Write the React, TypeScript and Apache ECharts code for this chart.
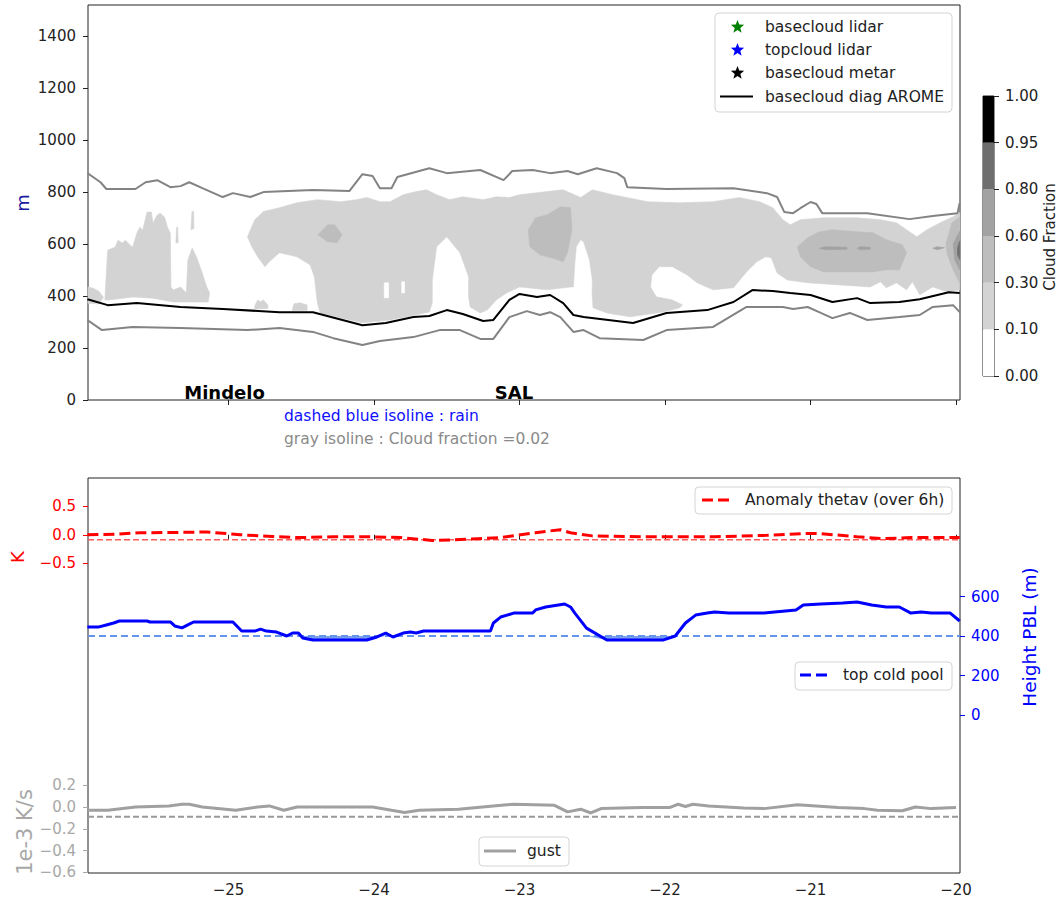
import React, { useEffect, useRef } from "react";
import * as echarts from "echarts";

// ---------- axes ----------
const X_MIN = -25.966;
const X_MAX = -19.973;
const LON_TICKS = [-25, -24, -23, -22, -21, -20];
const HEIGHT_TICKS = [0, 200, 400, 600, 800, 1000, 1200, 1400];
const K_TICKS = [-0.5, 0, 0.5];
const GUST_TICKS = [-0.6, -0.4, -0.2, 0, 0.2];
const PBL_TICKS = [0, 200, 400, 600];
const CF_BOUNDS = ["0.00", "0.10", "0.30", "0.60", "0.80", "0.95", "1.00"];
const CF_COLORS = ["#ffffff", "#d3d3d3", "#bdbdbd", "#a2a2a2", "#6e6e6e", "#000000"];

// ---------- top panel: isolines (lon, m) ----------
const GRAY_UPPER: number[][] = [
  [-25.97, 873], [-25.88, 838], [-25.84, 812], [-25.64, 812], [-25.57, 838], [-25.49, 846], [-25.40, 819],
  [-25.33, 823], [-25.27, 838], [-25.18, 815], [-25.04, 781], [-24.97, 796], [-24.85, 781], [-24.76, 800],
  [-24.42, 808], [-24.17, 804], [-24.08, 869], [-24.01, 862], [-23.96, 815], [-23.88, 815], [-23.84, 858],
  [-23.62, 892], [-23.50, 873], [-23.27, 885], [-23.11, 846], [-23.05, 881], [-22.91, 885], [-22.79, 873],
  [-22.67, 881], [-22.60, 869], [-22.47, 892], [-22.33, 873], [-22.28, 854], [-22.26, 819], [-21.99, 812],
  [-21.53, 815], [-21.30, 796], [-21.23, 781], [-21.18, 723], [-21.12, 719], [-21.07, 738], [-21.00, 762],
  [-20.96, 754], [-20.92, 719], [-20.61, 719], [-20.32, 696], [-20.16, 708], [-19.99, 719], [-19.975, 758],
];
const GRAY_LOWER: number[][] = [
  [-25.97, 308], [-25.87, 269], [-25.66, 281], [-25.33, 277], [-24.87, 269], [-24.65, 277], [-24.42, 262],
  [-24.28, 238], [-24.08, 212], [-23.96, 227], [-23.73, 242], [-23.55, 269], [-23.41, 269], [-23.27, 235],
  [-23.18, 235], [-23.07, 319], [-22.95, 342], [-22.86, 327], [-22.79, 338], [-22.72, 319], [-22.63, 262],
  [-22.56, 269], [-22.45, 238], [-22.15, 231], [-21.99, 269], [-21.67, 281], [-21.44, 358], [-21.19, 358],
  [-21.12, 350], [-21.02, 358], [-20.93, 335], [-20.85, 315], [-20.73, 335], [-20.61, 308], [-20.39, 319],
  [-20.25, 327], [-20.16, 358], [-20.02, 365], [-19.975, 338],
];
const BASECLOUD_AROME: number[][] = [
  [-25.97, 388], [-25.83, 365], [-25.63, 373], [-25.33, 358], [-25.04, 350], [-24.65, 338], [-24.42, 338],
  [-24.08, 288], [-23.92, 296], [-23.73, 319], [-23.62, 323], [-23.50, 346], [-23.39, 331], [-23.25, 304],
  [-23.18, 308], [-23.07, 385], [-23.00, 408], [-22.88, 396], [-22.79, 404], [-22.70, 373], [-22.63, 327],
  [-22.56, 319], [-22.22, 296], [-21.99, 335], [-21.71, 346], [-21.53, 377], [-21.40, 423], [-21.26, 419],
  [-21.14, 412], [-21.00, 404], [-20.85, 377], [-20.68, 392], [-20.59, 373], [-20.39, 377], [-20.25, 388],
  [-20.05, 415], [-19.975, 412],
];

// ---------- top panel: cloud fraction filled regions (lon, m) ----------
const CLOUD_010_030: number[][][] = [
  [[-25.85, 385], [-25.835, 538], [-25.83, 577], [-25.78, 588], [-25.76, 615], [-25.73, 604], [-25.71, 615],
   [-25.66, 588], [-25.63, 642], [-25.61, 665], [-25.59, 654], [-25.56, 723], [-25.53, 723], [-25.52, 681],
   [-25.49, 712], [-25.47, 719], [-25.44, 704], [-25.42, 665], [-25.40, 642], [-25.396, 435], [-25.38, 423],
   [-25.33, 435], [-25.29, 412], [-25.28, 538], [-25.25, 585], [-25.22, 550], [-25.18, 488], [-25.15, 435],
   [-25.13, 412], [-25.14, 377], [-25.20, 377], [-25.38, 377], [-25.52, 392], [-25.66, 396], [-25.82, 385]],
  [[-25.966, 435], [-25.93, 430], [-25.89, 418], [-25.86, 395], [-25.89, 370], [-25.966, 372]],
  [[-25.362, 605], [-25.357, 665], [-25.350, 665], [-25.346, 605]],
  [[-25.258, 655], [-25.252, 725], [-25.240, 725], [-25.238, 660]],
  [[-24.87, 628], [-24.82, 694], [-24.76, 725], [-24.65, 740], [-24.53, 759], [-24.39, 771], [-24.23, 763],
   [-24.12, 771], [-24.05, 779], [-23.96, 763], [-23.89, 763], [-23.80, 790], [-23.71, 802], [-23.64, 809],
   [-23.57, 790], [-23.48, 771], [-23.39, 782], [-23.25, 771], [-23.16, 782], [-23.07, 779], [-23.00, 790],
   [-22.81, 802], [-22.70, 809], [-22.58, 779], [-22.50, 809], [-22.36, 790], [-22.12, 763], [-21.90, 759],
   [-21.67, 763], [-21.49, 779], [-21.35, 763], [-21.26, 740], [-21.19, 694], [-21.14, 674], [-21.07, 694],
   [-20.91, 701], [-20.68, 701], [-20.52, 694], [-20.41, 682], [-20.34, 655], [-20.27, 628], [-20.20, 655],
   [-20.11, 682], [-20.02, 705], [-19.975, 721],
   [-19.975, 424], [-20.06, 416], [-20.16, 435], [-20.25, 405], [-20.30, 455], [-20.34, 424], [-20.41, 451],
   [-20.48, 432], [-20.52, 455], [-20.59, 435], [-20.80, 443], [-21.02, 451], [-21.16, 462], [-21.23, 489],
   [-21.27, 547], [-21.31, 551], [-21.37, 532], [-21.44, 493], [-21.53, 432], [-21.67, 424], [-21.78, 451],
   [-21.85, 482], [-21.95, 513], [-22.04, 513], [-22.09, 482], [-22.10, 435], [-22.06, 397], [-21.95, 385],
   [-21.88, 366], [-21.90, 355], [-22.01, 339], [-22.24, 320], [-22.40, 335], [-22.495, 355], [-22.502, 412],
   [-22.50, 462], [-22.52, 540], [-22.56, 609], [-22.58, 617], [-22.61, 590], [-22.62, 528], [-22.63, 435],
   [-22.65, 435], [-22.81, 424], [-23.00, 435], [-23.09, 412], [-23.16, 385], [-23.22, 347], [-23.27, 335],
   [-23.34, 358], [-23.35, 397], [-23.35, 474], [-23.41, 567], [-23.50, 628], [-23.57, 590], [-23.60, 462],
   [-23.60, 374], [-23.62, 339], [-23.71, 328], [-23.89, 308], [-24.08, 297], [-24.23, 316], [-24.37, 335],
   [-24.39, 374], [-24.41, 474], [-24.44, 520], [-24.53, 551], [-24.65, 567], [-24.72, 532], [-24.75, 513],
   [-24.80, 551], [-24.84, 590]],
  [[-24.82, 362], [-24.80, 385], [-24.78, 378], [-24.76, 385], [-24.73, 366], [-24.73, 352], [-24.82, 350]],
  [[-24.56, 352], [-24.55, 370], [-24.51, 374], [-24.46, 366], [-24.46, 345], [-24.56, 343]],
];
const CLOUD_030_060: number[][][] = [
  [[-24.385, 636], [-24.32, 674], [-24.27, 674], [-24.22, 636], [-24.255, 605], [-24.32, 609]],
  [[-22.94, 655], [-22.89, 701], [-22.81, 713], [-22.72, 744], [-22.65, 740], [-22.64, 655], [-22.67, 570],
   [-22.70, 532], [-22.78, 547], [-22.86, 559], [-22.93, 590]],
  [[-21.09, 590], [-21.02, 624], [-20.94, 647], [-20.85, 655], [-20.68, 647], [-20.57, 644], [-20.48, 617],
   [-20.37, 597], [-20.34, 567], [-20.39, 501], [-20.48, 501], [-20.57, 493], [-20.80, 493], [-20.91, 493],
   [-21.00, 513], [-21.07, 551]],
  [[-20.07, 600], [-20.03, 680], [-19.975, 705], [-19.975, 450], [-20.02, 500], [-20.06, 560]],
];
const CLOUD_060_080: number[][][] = [
  [[-20.94, 584], [-20.90, 590], [-20.75, 588], [-20.75, 580], [-20.90, 578]],
  [[-20.68, 584], [-20.66, 590], [-20.59, 588], [-20.59, 580], [-20.66, 578]],
  [[-20.16, 584], [-20.13, 590], [-20.08, 586], [-20.13, 578]],
  [[-20.02, 600], [-19.975, 650], [-19.975, 500], [-20.01, 540]],
];
const CLOUD_080_095: number[][][] = [
  [[-19.99, 585], [-19.975, 612], [-19.975, 540], [-19.99, 560]],
];
const CLOUD_BELOW_010: number[][][] = [
  [[-23.93, 451], [-23.90, 451], [-23.90, 393], [-23.93, 393]],
  [[-23.81, 455], [-23.79, 455], [-23.79, 412], [-23.81, 412]],
];

// ---------- bottom panel (lon, value) ----------
const THETAV_ANOM: number[][] = [
  [-25.97, 0], [-25.78, 0.01], [-25.61, 0.035], [-25.35, 0.04], [-25.15, 0.05], [-24.92, 0.0], [-24.70, -0.03],
  [-24.51, -0.05], [-24.28, -0.035], [-24.05, -0.035], [-23.82, -0.05], [-23.60, -0.1], [-23.45, -0.09],
  [-23.29, -0.07], [-23.13, -0.05], [-22.89, 0.035], [-22.72, 0.09], [-22.65, 0.035], [-22.50, -0.02],
  [-22.15, -0.035], [-21.66, -0.035], [-21.30, -0.01], [-21.05, 0.02], [-20.93, 0.02], [-20.68, -0.035],
  [-20.51, -0.07], [-20.31, -0.05], [-20.10, -0.05], [-19.975, -0.05],
];
const THETAV_THRESHOLD = -0.09;
const PBL_HEIGHT: number[][] = [
  [-25.97, 446], [-25.89, 446], [-25.84, 456], [-25.79, 466], [-25.75, 476], [-25.56, 476], [-25.54, 471],
  [-25.40, 471], [-25.37, 451], [-25.32, 441], [-25.28, 456], [-25.24, 471], [-24.97, 471], [-24.91, 425],
  [-24.82, 425], [-24.78, 435], [-24.74, 425], [-24.67, 420], [-24.60, 400], [-24.56, 415], [-24.52, 415],
  [-24.49, 390], [-24.42, 380], [-24.05, 380], [-23.98, 395], [-23.92, 415], [-23.87, 395], [-23.80, 415],
  [-23.75, 420], [-23.71, 415], [-23.66, 425], [-23.20, 425], [-23.18, 466], [-23.13, 496], [-23.04, 516],
  [-22.91, 516], [-22.89, 532], [-22.82, 547], [-22.69, 562], [-22.65, 547], [-22.62, 516], [-22.54, 440],
  [-22.40, 380], [-22.01, 380], [-21.93, 400], [-21.86, 466], [-21.79, 506], [-21.71, 516], [-21.66, 522],
  [-21.56, 516], [-21.32, 516], [-21.10, 532], [-21.05, 557], [-20.93, 562], [-20.78, 567], [-20.68, 572],
  [-20.58, 557], [-20.48, 547], [-20.39, 547], [-20.31, 516], [-20.24, 522], [-20.17, 516], [-20.04, 516],
  [-19.975, 476],
];
const COLD_POOL_TOP = 400;
const GUST: number[][] = [
  [-25.97, -0.03], [-25.83, -0.03], [-25.64, 0.0], [-25.41, 0.01], [-25.32, 0.025], [-25.27, 0.025],
  [-25.18, 0.0], [-24.95, -0.03], [-24.80, 0.0], [-24.72, 0.01], [-24.62, -0.03], [-24.53, 0.0], [-24.01, 0.0],
  [-23.88, -0.03], [-23.79, -0.05], [-23.69, -0.03], [-23.42, -0.02], [-23.18, 0.01], [-23.04, 0.025],
  [-22.76, 0.015], [-22.67, -0.045], [-22.58, -0.02], [-22.51, -0.055], [-22.44, -0.015], [-22.16, -0.005],
  [-21.97, -0.005], [-21.91, 0.025], [-21.86, 0.005], [-21.81, 0.025], [-21.70, 0.01], [-21.46, -0.01],
  [-21.32, -0.015], [-21.09, 0.02], [-20.81, -0.005], [-20.63, -0.015], [-20.54, -0.03], [-20.37, -0.035],
  [-20.28, 0.0], [-20.17, -0.015], [-20.00, -0.005],
];
const GUST_THRESHOLD = -0.09;

const FONT = "'DejaVu Sans', 'Liberation Sans', sans-serif";
const minus = (s: string) => s.replace("-", "\u2212");
const fmt1 = (v: number) => minus(v.toFixed(1));

function starPoints(cx: number, cy: number, R: number) {
  const r = R * 0.42;
  const pts: number[][] = [];
  for (let i = 0; i < 10; i++) {
    const a = -Math.PI / 2 + (i * Math.PI) / 5;
    const rr = i % 2 === 0 ? R : r;
    pts.push([cx + rr * Math.cos(a), cy + rr * Math.sin(a)]);
  }
  return pts;
}

function polySeries(polys: number[][][], color: string) {
  return {
    type: "custom",
    xAxisIndex: 0,
    yAxisIndex: 0,
    silent: true,
    data: polys.map((p, i) => [p[0][0], p[0][1], i]),
    encode: { x: 0, y: 1 },
    renderItem: (params: any, api: any) => {
      const poly = polys[params.dataIndex];
      return {
        type: "polygon",
        shape: { points: poly.map((pt) => api.coord(pt)) },
        style: { fill: color, stroke: color, lineWidth: 0.6 },
      };
    },
  };
}

function hLine(value: number) {
  return [[X_MIN, value], [X_MAX, value]];
}

function text(x: number, y: number, t: string, font: string, fill: string, align = "left", vAlign = "middle", rotation = 0) {
  return {
    type: "text",
    x,
    y,
    rotation,
    silent: true,
    style: { text: t, font, fill, align, verticalAlign: vAlign, textAlign: align, textVerticalAlign: vAlign },
  };
}

function legendBox(x: number, y: number, w: number, h: number) {
  return {
    type: "rect",
    silent: true,
    shape: { x, y, width: w, height: h, r: 4 },
    style: { fill: "rgba(255,255,255,0.85)", stroke: "#d4d4d4", lineWidth: 1 },
  };
}

function buildOption() {
  const tickStyle = (color: string) => ({ show: true, length: 5, lineStyle: { color, width: 1 } });
  const legendFont = `15.5px ${FONT}`;

  const graphic: any[] = [
    // top legend
    legendBox(715, 13, 237, 99),
    { type: "polygon", silent: true, shape: { points: starPoints(737.5, 27, 7) }, style: { fill: "#008000" } },
    { type: "polygon", silent: true, shape: { points: starPoints(737.5, 50, 7) }, style: { fill: "#0000ff" } },
    { type: "polygon", silent: true, shape: { points: starPoints(737.5, 73, 7) }, style: { fill: "#000000" } },
    { type: "line", silent: true, shape: { x1: 720, y1: 96.5, x2: 753, y2: 96.5 }, style: { stroke: "#000", lineWidth: 2 } },
    text(765, 27, "basecloud lidar", legendFont, "#222"),
    text(765, 50, "topcloud lidar", legendFont, "#222"),
    text(765, 73, "basecloud metar", legendFont, "#222"),
    text(765, 96.5, "basecloud diag AROME", legendFont, "#222"),
    // bottom legends
    legendBox(695, 487, 257, 27),
    { type: "line", silent: true, shape: { x1: 702, y1: 500, x2: 730, y2: 500 }, style: { stroke: "#ff0000", lineWidth: 3, lineDash: [11, 5] } },
    text(745, 500, "Anomaly thetav (over 6h)", legendFont, "#222"),
    legendBox(795, 662, 157, 28),
    { type: "line", silent: true, shape: { x1: 800, y1: 675, x2: 829, y2: 675 }, style: { stroke: "#0000ff", lineWidth: 3, lineDash: [11, 5] } },
    text(843, 675, "top cold pool", legendFont, "#222"),
    legendBox(479, 837, 90, 29),
    { type: "line", silent: true, shape: { x1: 484, y1: 851, x2: 516, y2: 851 }, style: { stroke: "#a0a0a0", lineWidth: 3 } },
    text(527, 851, "gust", legendFont, "#222"),
    // annotations
    text(224.5, 401, "Mindelo", `bold 18px ${FONT}`, "#000", "center", "bottom"),
    text(514, 401, "SAL", `bold 18px ${FONT}`, "#000", "center", "bottom"),
    text(284, 416, "dashed blue isoline : rain", legendFont, "#1010ff"),
    text(284, 439, "gray isoline : Cloud fraction =0.02", legendFont, "#8a8a8a"),
    // axis titles
    text(22, 203, "m", `18px ${FONT}`, "#1c1ca0", "center", "middle", Math.PI / 2),
    text(17, 557, "K", `18px ${FONT}`, "#ff0000", "center", "middle", Math.PI / 2),
    text(25, 832, "1e-3 K/s", `21px ${FONT}`, "#a8a8a8", "center", "middle", Math.PI / 2),
    text(1029, 637, "Height PBL (m)", `18.5px ${FONT}`, "#0000ff", "center", "middle", Math.PI / 2),
    text(1050, 237, "Cloud Fraction", `15px ${FONT}`, "#222", "center", "middle", Math.PI / 2),
  ];

  const bandValues = CF_COLORS.map(() => 1);
  const coldPoolBase = PBL_HEIGHT.map(([x, v]) => [x, Math.min(v, COLD_POOL_TOP)]);

  return {
    animation: false,
    backgroundColor: "#ffffff",
    textStyle: { fontFamily: FONT },
    grid: [
      { left: 88, top: 5, width: 872, height: 395, show: true, borderColor: "#222", borderWidth: 1, backgroundColor: "transparent" },
      { left: 88, top: 478, width: 872, height: 395, show: true, borderColor: "#222", borderWidth: 1, backgroundColor: "transparent" },
      { left: 983, top: 96, width: 11, height: 280, show: true, borderColor: "#222", borderWidth: 1, backgroundColor: "transparent" },
    ],
    xAxis: [
      {
        type: "value", gridIndex: 0, min: X_MIN, max: X_MAX,
        splitLine: { show: false }, axisLine: { show: false },
        axisTick: { ...tickStyle("#222"), customValues: LON_TICKS },
        axisLabel: { show: false, customValues: LON_TICKS },
      },
      {
        type: "value", gridIndex: 1, min: X_MIN, max: X_MAX,
        splitLine: { show: false }, axisLine: { show: false },
        axisTick: { ...tickStyle("#222"), customValues: LON_TICKS },
        axisLabel: { customValues: LON_TICKS, margin: 9, color: "#222", fontSize: 15, fontFamily: FONT, formatter: (v: number) => minus(String(v)) },
      },
      { type: "category", gridIndex: 2, data: ["cf"], show: false, boundaryGap: true },
    ],
    yAxis: [
      {
        type: "value", gridIndex: 0, min: 0, max: 1520, position: "left",
        splitLine: { show: false }, axisLine: { show: false },
        axisTick: { ...tickStyle("#222"), customValues: HEIGHT_TICKS },
        axisLabel: { customValues: HEIGHT_TICKS, margin: 12, color: "#222", fontSize: 15, fontFamily: FONT, formatter: (v: number) => String(v) },
      },
      {
        type: "value", gridIndex: 1, min: -5.96, max: 1.0, position: "left",
        splitLine: { show: false }, axisLine: { show: false },
        axisTick: { ...tickStyle("#ff0000"), customValues: K_TICKS },
        axisLabel: { customValues: K_TICKS, margin: 12, color: "#ff0000", fontSize: 15, fontFamily: FONT, formatter: fmt1 },
      },
      {
        type: "value", gridIndex: 1, min: -0.606, max: 3.02, position: "left",
        splitLine: { show: false }, axisLine: { show: false },
        axisTick: { ...tickStyle("#a8a8a8"), customValues: GUST_TICKS },
        axisLabel: { customValues: GUST_TICKS, margin: 12, color: "#a8a8a8", fontSize: 15, fontFamily: FONT, formatter: fmt1 },
      },
      {
        type: "value", gridIndex: 1, min: -800, max: 1200, position: "right",
        splitLine: { show: false }, axisLine: { show: false },
        axisTick: { ...tickStyle("#0000ff"), customValues: PBL_TICKS },
        axisLabel: { customValues: PBL_TICKS, margin: 11, color: "#0000ff", fontSize: 15, fontFamily: FONT, formatter: (v: number) => String(v) },
      },
      {
        type: "value", gridIndex: 2, min: 0, max: CF_BOUNDS.length - 1, position: "right",
        splitLine: { show: false }, axisLine: { show: false },
        axisTick: { ...tickStyle("#222"), customValues: CF_BOUNDS.map((_, i) => i) },
        axisLabel: {
          customValues: CF_BOUNDS.map((_, i) => i), margin: 11, color: "#222", fontSize: 15, fontFamily: FONT,
          formatter: (v: number) => CF_BOUNDS[Math.round(v)],
        },
      },
    ],
    series: [
      polySeries(CLOUD_010_030, CF_COLORS[1]),
      polySeries(CLOUD_030_060, CF_COLORS[2]),
      polySeries(CLOUD_060_080, CF_COLORS[3]),
      polySeries(CLOUD_080_095, CF_COLORS[4]),
      polySeries(CLOUD_BELOW_010, CF_COLORS[0]),
      {
        name: "gray isoline upper", type: "line", xAxisIndex: 0, yAxisIndex: 0, data: GRAY_UPPER,
        symbol: "none", silent: true, lineStyle: { color: "#838383", width: 2 },
      },
      {
        name: "gray isoline lower", type: "line", xAxisIndex: 0, yAxisIndex: 0, data: GRAY_LOWER,
        symbol: "none", silent: true, lineStyle: { color: "#838383", width: 2 },
      },
      {
        name: "basecloud diag AROME", type: "line", xAxisIndex: 0, yAxisIndex: 0, data: BASECLOUD_AROME,
        symbol: "none", silent: true, lineStyle: { color: "#000000", width: 2 },
      },
      // bottom panel
      {
        name: "thetav threshold", type: "line", xAxisIndex: 1, yAxisIndex: 1, data: hLine(THETAV_THRESHOLD),
        symbol: "none", silent: true, lineStyle: { color: "#ff5a5a", width: 1.5, type: [6, 3] },
      },
      {
        name: "Anomaly thetav (over 6h)", type: "line", xAxisIndex: 1, yAxisIndex: 1, data: THETAV_ANOM,
        symbol: "none", silent: true, lineStyle: { color: "#ff0000", width: 3, type: [11, 5] },
      },
      {
        name: "cold pool fill", type: "custom", xAxisIndex: 1, yAxisIndex: 3, silent: true,
        data: [[coldPoolBase[0][0], coldPoolBase[0][1]]],
        encode: { x: 0, y: 1 },
        renderItem: (_params: any, api: any) => {
          const ring = [
            ...coldPoolBase,
            [coldPoolBase[coldPoolBase.length - 1][0], COLD_POOL_TOP],
            [coldPoolBase[0][0], COLD_POOL_TOP],
          ];
          return {
            type: "polygon",
            shape: { points: ring.map((pt) => api.coord(pt)) },
            style: { fill: "#6a96ea", opacity: 0.9 },
          };
        },
      },
      {
        name: "top cold pool", type: "line", xAxisIndex: 1, yAxisIndex: 3, data: hLine(COLD_POOL_TOP),
        symbol: "none", silent: true, lineStyle: { color: "#6495ed", width: 2, type: [7, 4] },
      },
      {
        name: "Height PBL", type: "line", xAxisIndex: 1, yAxisIndex: 3, data: PBL_HEIGHT,
        symbol: "none", silent: true, lineStyle: { color: "#0000ff", width: 3 },
      },
      {
        name: "gust threshold", type: "line", xAxisIndex: 1, yAxisIndex: 2, data: hLine(GUST_THRESHOLD),
        symbol: "none", silent: true, lineStyle: { color: "#999999", width: 2, type: [6, 3] },
      },
      {
        name: "gust", type: "line", xAxisIndex: 1, yAxisIndex: 2, data: GUST,
        symbol: "none", silent: true, lineStyle: { color: "#a0a0a0", width: 3 },
      },
      // colorbar
      ...CF_COLORS.map((c, i) => ({
        name: `cf band ${CF_BOUNDS[i]}-${CF_BOUNDS[i + 1]}`, type: "bar", xAxisIndex: 2, yAxisIndex: 4,
        stack: "cf", data: [bandValues[i]], barWidth: "100%", silent: true, itemStyle: { color: c },
      })),
    ],
    graphic,
  };
}

export default function App() {
  const ref = useRef<HTMLDivElement>(null);
  useEffect(() => {
    if (!ref.current) return;
    const chart = echarts.init(ref.current, null, { renderer: "svg" });
    chart.setOption(buildOption() as any);
    return () => chart.dispose();
  }, []);
  return (
    <div
      ref={ref}
      style={{ position: "fixed", left: 0, top: 0, width: 1060, height: 901, background: "#ffffff" }}
    />
  );
}
